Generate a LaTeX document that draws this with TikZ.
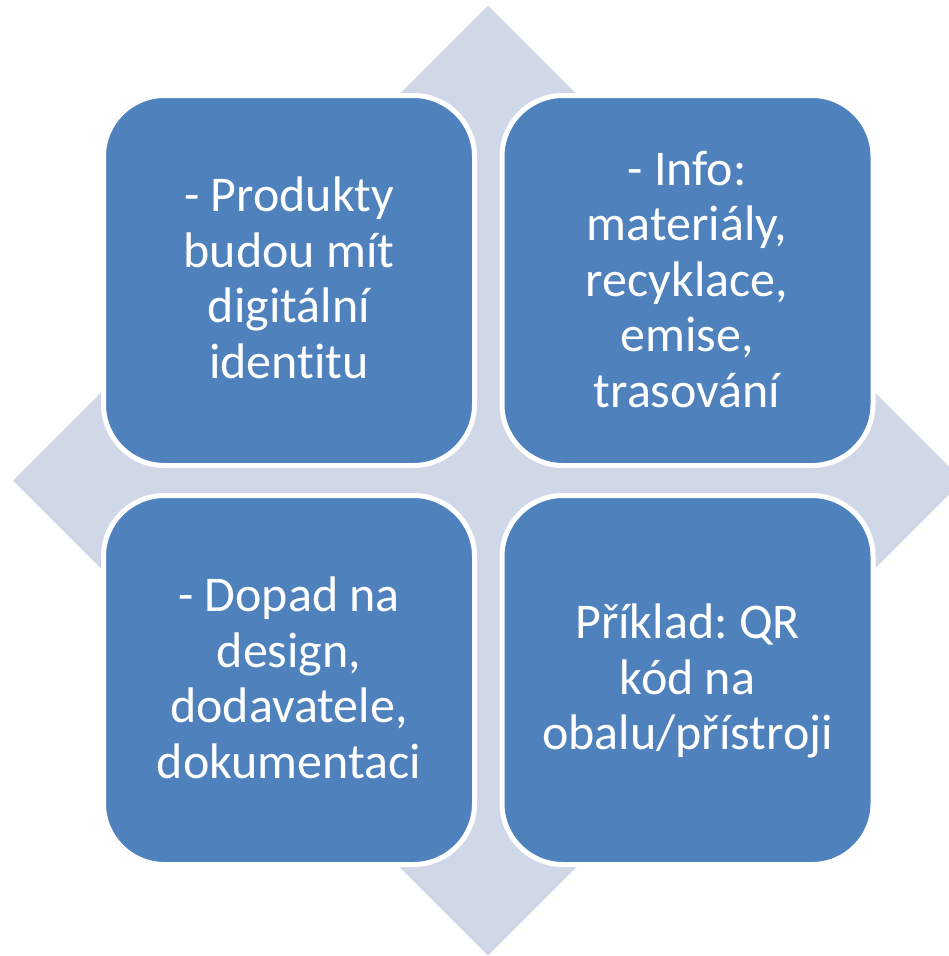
\documentclass[tikz,border=0pt]{standalone}
\usepackage{fontspec}
\setmainfont{Carlito}[RawFeature={-liga;-clig;-calt;-dlig}]
\frenchspacing
\definecolor{boxblue}{HTML}{4F81BD}
\definecolor{diamondfill}{HTML}{D0D8E8}
\begin{document}
\begin{tikzpicture}[x=1pt,y=-1pt,
  quad/.style={draw=white, line width=5pt, fill=boxblue, rectangle, rounded corners=61pt,
    inner sep=0pt, minimum width=371pt},
  txt/.style={text=white, align=center, inner sep=0pt, font=\fontsize{50}{55.5}\selectfont\frenchspacing}]
\useasboundingbox (0,0) rectangle (949,956);
% background diamond
\fill[diamondfill] (488,5.5) -- (963,480.5) -- (488,955.5) -- (13,480.5) -- cycle;
% boxes
\node[quad, minimum height=370pt] (b1) at (289,280.5) {};
\node[quad, minimum height=370pt] (b2) at (687.5,280.5) {};
\node[quad, minimum height=369pt] (b3) at (289,680) {};
\node[quad, minimum height=369pt] (b4) at (687.5,680) {};
% texts
\node[txt] (t1) at (289,284) {\strut- Produkty\\budou mít\\digitální\\identitu\strut};
\node[txt] (t2) at (687,285) {\strut- Info:\\materiály,\\recyklace,\\emise,\\trasování\strut};
\node[txt] (t3) at (289,684) {\strut- Dopad na\\design,\\dodavatele,\\dokumentaci\strut};
\node[txt] (t4) at (687.5,683) {\strut Příklad: QR\\kód na\\obalu/přístroji\strut};
\end{tikzpicture}
\end{document}
